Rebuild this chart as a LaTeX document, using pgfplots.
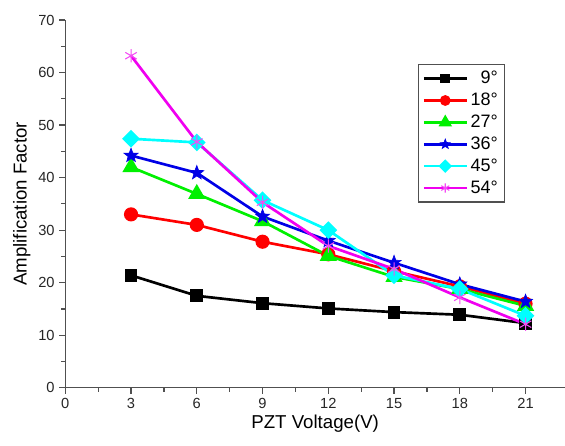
\documentclass[border=0pt]{standalone}
\usepackage{fontspec}
\setmainfont{Liberation Sans}
\usepackage{pgfplots}
\pgfplotsset{compat=1.18}
\usetikzlibrary{plotmarks}

\definecolor{cgreen}{RGB}{0,240,0}
\definecolor{cmag}{RGB}{240,0,240}
\definecolor{cblue}{RGB}{0,0,230}
\definecolor{ccyan}{RGB}{0,255,255}
\definecolor{axgray}{RGB}{80,80,80}

% filled five-pointed star
\pgfdeclareplotmark{fstar}{%
  \pgfpathmoveto{\pgfpointpolar{90}{\pgfplotmarksize}}%
  \pgfpathlineto{\pgfpointpolar{126}{0.42\pgfplotmarksize}}%
  \pgfpathlineto{\pgfpointpolar{162}{\pgfplotmarksize}}%
  \pgfpathlineto{\pgfpointpolar{198}{0.42\pgfplotmarksize}}%
  \pgfpathlineto{\pgfpointpolar{234}{\pgfplotmarksize}}%
  \pgfpathlineto{\pgfpointpolar{270}{0.42\pgfplotmarksize}}%
  \pgfpathlineto{\pgfpointpolar{306}{\pgfplotmarksize}}%
  \pgfpathlineto{\pgfpointpolar{342}{0.42\pgfplotmarksize}}%
  \pgfpathlineto{\pgfpointpolar{18}{\pgfplotmarksize}}%
  \pgfpathlineto{\pgfpointpolar{54}{0.42\pgfplotmarksize}}%
  \pgfpathclose\pgfusepathqfillstroke}

\begin{document}
\begin{tikzpicture}
\begin{axis}[
    scale only axis,
    width=375pt, height=276pt,
    xmin=0, xmax=22.8,
    ymin=0, ymax=70,
    xtick={0,3,...,21},
    ytick={0,10,...,70},
    minor x tick num=1,
    minor y tick num=1,
    axis x line=bottom,
    axis y line=left,
    axis line style={-, draw=axgray, line width=1pt},
    every tick/.style={draw=axgray, line width=0.9pt},
    tick align=outside,
    major tick length=4.5pt,
    minor tick length=3pt,
    clip=false,
    /pgf/number format/assume math mode=true,
    ticklabel style={font=\fontsize{11}{13}\selectfont, text=black!85},
    xlabel={PZT Voltage(V)},
    ylabel={Amplification Factor},
    label style={font=\fontsize{14}{16}\selectfont},
    xlabel style={yshift=2pt},
    ylabel style={yshift=-1pt},
    legend style={at={(0.706,0.88)}, anchor=north west,
        draw=axgray, line width=0.8pt,
        font=\fontsize{13.5}{15}\selectfont,
        row sep=1.5pt, inner xsep=3pt, inner ysep=3pt},
    legend cell align=right,
    legend image code/.code={%
        \draw[mark repeat=2,mark phase=2,#1,
              every mark/.append style={scale=0.7}]
        plot coordinates {(0pt,0pt) (16pt,0pt) (32pt,0pt)};},
    every axis plot/.append style={line width=2pt},
]
\addplot[black, mark=square*, mark size=3.8pt] coordinates {
    (3,21.4) (6,17.5) (9,16.1) (12,15.1) (15,14.4) (18,13.9) (21,12.3)
};
\addlegendentry{9°}
\addplot[red, mark=*, mark size=4.3pt] coordinates {
    (3,33.0) (6,31.0) (9,27.8) (12,25.4) (15,22.2) (18,19.3) (21,16.0)
};
\addlegendentry{18°}
\addplot[cgreen, mark=triangle*, mark size=5.5pt] coordinates {
    (3,42.0) (6,36.9) (9,31.7) (12,25.1) (15,21.1) (18,18.8) (21,15.6)
};
\addlegendentry{27°}
\addplot[cblue, mark=fstar, mark size=5.5pt, mark options={line width=0.5pt}] coordinates {
    (3,44.2) (6,40.9) (9,32.6) (12,28.0) (15,23.8) (18,19.7) (21,16.4)
};
\addlegendentry{36°}
\addplot[ccyan, mark=square*, mark size=3.7pt, mark options={rotate=45}] coordinates {
    (3,47.4) (6,46.7) (9,35.7) (12,30.0) (15,21.4) (18,18.8) (21,13.7)
};
\addlegendentry{45°}
\addplot[cmag, mark=asterisk, mark size=5pt, mark options={line width=0.8pt, draw=cmag!70}] coordinates {
    (3,63.2) (6,46.8) (9,35.3) (12,27.0) (15,22.6) (18,17.2) (21,12.1)
};
\addlegendentry{54°}
\end{axis}
\pgfresetboundingbox
\useasboundingbox (-49pt,-43.5pt) rectangle (375pt,291pt);
\end{tikzpicture}
\end{document}
